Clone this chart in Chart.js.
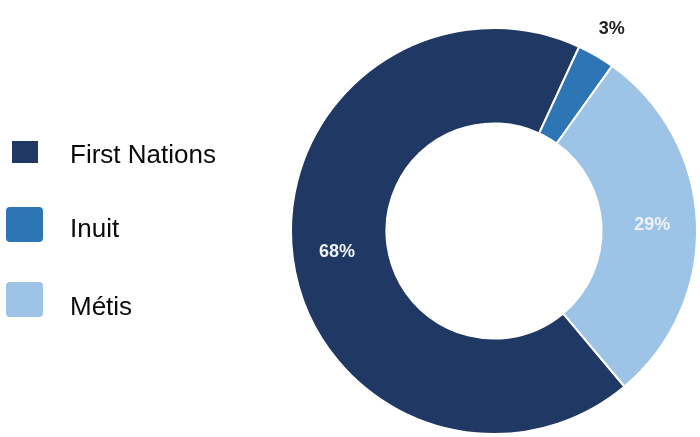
<!DOCTYPE html>
<html>
<head>
<meta charset="utf-8">
<script src="https://cdn.jsdelivr.net/npm/chart.js@4"></script>
<style>
  html, body { margin: 0; padding: 0; background: #fff; }
  #wrap { position: relative; width: 700px; height: 437px; overflow: hidden; }
  #ring { position: absolute; left: 0; top: 0; }
  .legend-box { position: absolute; }
  .legend-text {
    position: absolute; left: 70px;
    font-family: Arial, "Liberation Sans", sans-serif;
    font-size: 26px; line-height: 26px; color: #0a0a0a; white-space: nowrap;
  }
</style>
</head>
<body>
<div id="wrap">
  <canvas id="ring" width="700" height="437"></canvas>
  <div id="legend"></div>
</div>
<script>
// Population shares by group
const groups = ["First Nations", "Inuit", "Métis"];
const shares = [68, 3, 29];
const groupColors = ["#1f3864", "#2e75b6", "#9dc3e6"];

// legend swatch placement (the first swatch is drawn smaller)
const legendBoxes = [
  { left: 12, top: 141, w: 26, h: 22, radius: 0, textTop: 141 },
  { left: 6, top: 207, w: 37, h: 35, radius: 4, textTop: 215 },
  { left: 6, top: 282, w: 37, h: 35, radius: 4, textTop: 293 },
];

// Build the legend on the left
let legend = document.getElementById("legend");
groups.forEach((name, i) => {
  let b = legendBoxes[i];
  let box = document.createElement("div");
  box.className = "legend-box";
  box.style.left = b.left + "px";
  box.style.top = b.top + "px";
  box.style.width = b.w + "px";
  box.style.height = b.h + "px";
  box.style.borderRadius = b.radius + "px";
  box.style.background = groupColors[i];
  legend.appendChild(box);

  let txt = document.createElement("div");
  txt.className = "legend-text";
  txt.style.top = b.textTop + "px";
  txt.textContent = name;
  legend.appendChild(txt);
});

// Percent labels: inside the ring for big slices, outside for small ones
const percentLabels = {
  id: "percentLabels",
  afterDatasetsDraw(chart) {
    const ctx = chart.ctx;
    const meta = chart.getDatasetMeta(0);
    ctx.save();
    ctx.font = "bold 18px Arial, 'Liberation Sans', sans-serif";
    ctx.textAlign = "center";
    ctx.textBaseline = "middle";
    meta.data.forEach((arc, i) => {
      const p = arc.getProps(["x", "y", "startAngle", "endAngle", "innerRadius", "outerRadius"], true);
      const mid = (p.startAngle + p.endAngle) / 2;
      let r, color;
      if (shares[i] < 5) {
        r = p.outerRadius + 31;
        color = "#222222";
      } else {
        r = (p.innerRadius + p.outerRadius) / 2 + 3;
        color = "#eef2f8";
      }
      ctx.fillStyle = color;
      ctx.fillText(shares[i] + "%", p.x + Math.cos(mid) * r, p.y + Math.sin(mid) * r);
    });
    ctx.restore();
  },
};

var ctx = document.getElementById("ring").getContext("2d");
var chart = new Chart(ctx, {
  type: "doughnut",
  data: {
    labels: groups,
    datasets: [
      {
        data: shares,
        backgroundColor: groupColors,
        borderColor: "#ffffff",
        borderWidth: 2,
      },
    ],
  },
  options: {
    responsive: false,
    animation: false,
    rotation: 140,
    cutout: "53%",
    layout: { padding: { left: 290, right: 2, top: 27, bottom: 2 } },
    plugins: {
      legend: { display: false },
      tooltip: { enabled: false },
    },
  },
  plugins: [percentLabels],
});
</script>
</body>
</html>
